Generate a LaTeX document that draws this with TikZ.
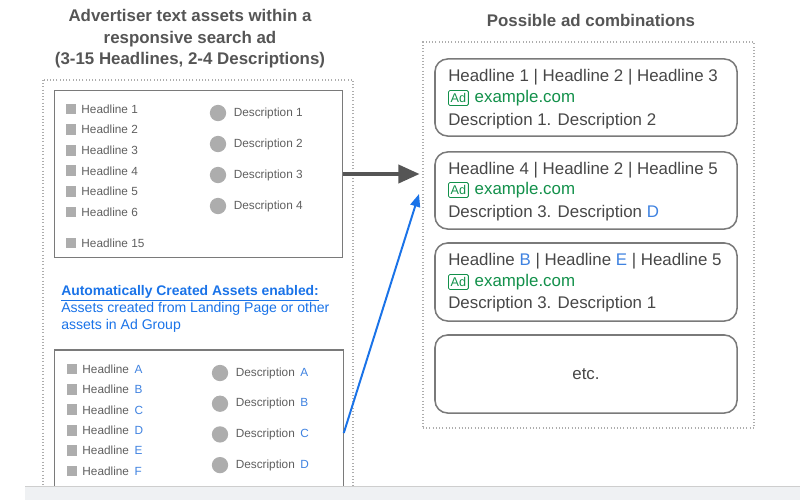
\documentclass[tikz,border=0pt]{standalone}
\usepackage{fontspec}
\setmainfont{Liberation Sans}
\usetikzlibrary{arrows.meta,positioning}
\definecolor{titlegray}{HTML}{555555}
\definecolor{itemgray}{HTML}{5F5F5F}
\definecolor{markgray}{HTML}{ADADAD}
\definecolor{boxgray}{HTML}{7A7A7A}
\definecolor{adtext}{HTML}{474747}
\definecolor{adgreen}{HTML}{12904A}
\definecolor{gblue}{HTML}{1A73E8}
\definecolor{lblue}{HTML}{3F82E0}
\definecolor{bargray}{HTML}{EFF1F3}
\tikzset{
    title/.style={font=\bfseries\fontsize{12}{15.3}\selectfont, text=titlegray, align=center, inner sep=0pt},
    dotbox/.style={draw=markgray, line width=0.9pt, dash pattern=on 0.7pt off 1.6pt, inner sep=0pt},
    listbox/.style={draw=boxgray, line width=0.9pt, inner sep=0pt},
    hsq/.style={fill=markgray, minimum size=7.6pt, inner sep=0pt},
    dsq/.style={circle, fill=markgray, minimum size=11.6pt, inner sep=0pt},
    item/.style={anchor=west, inner sep=0pt, text=itemgray, font=\fontsize{8.4}{10}\selectfont},
    adbox/.style={draw=boxgray, line width=1.1pt, rounded corners=9pt, inner sep=0pt},
    adline/.style={anchor=west, inner sep=0pt, text=adtext, font=\fontsize{12}{14}\selectfont},
    adtag/.style={draw=adgreen, text=adgreen, line width=0.6pt, rounded corners=1pt, inner xsep=1.6pt, inner ysep=2pt, font=\fontsize{9}{10}\selectfont},
}
\begin{document}
\begin{tikzpicture}[x=0.025cm, y=-0.025cm]
\useasboundingbox (0,0) rectangle (800,500);

% left side: given assets
\node[title] (lefttitle) at (190,39) {Advertiser text assets within a\\responsive search ad\\(3-15 Headlines, 2-4 Descriptions)};
\draw[dotbox] (43,80) rectangle (353,492);
\node[listbox, minimum width=205pt, minimum height=119pt] (given) at (198.5,174) {};
\foreach \i in {1,...,6}{
    \node[hsq] (hs\i) at (71,{109+(\i-1)*20.6}) {};
    \node[item, right=3.2pt of hs\i] (h\i) {Headline \i};
}
\node[hsq] (hs15) at (71,243) {};
\node[item, right=3.2pt of hs15] (h15) {Headline 15};
\foreach \i in {1,...,4}{
    \node[dsq] (ds\i) at (218,{113+(\i-1)*31}) {};
    \node[item, right=5pt of ds\i] (d\i) {Description \i};
}

\node[anchor=west, inner sep=0pt, text=gblue, font=\bfseries\fontsize{9.9}{11}\selectfont] (autohead) at (61,293) {\underline{Automatically Created Assets enabled:}};
\node[anchor=north west, inner sep=0pt, text=gblue, align=left, font=\fontsize{10}{12}\selectfont] (autonote) at (61,302) {Assets created from Landing Page or other\\assets in Ad Group};

\node[listbox, minimum width=205pt, minimum height=103pt] (auto) at (199,422.5) {};
\foreach \l [count=\i] in {A,B,C,D,E,F}{
    \node[hsq] (as\i) at (72,{369+(\i-1)*20.4}) {};
    \node[item, right=3.2pt of as\i] (a\i) {Headline\hspace{4pt}\textcolor{lblue}{\l}};
}
\foreach \l [count=\i] in {A,B,C,D}{
    \node[dsq] (bs\i) at (220,{373+(\i-1)*30.7}) {};
    \node[item, right=5pt of bs\i] (b\i) {Description\hspace{4pt}\textcolor{lblue}{\l}};
}

% right side: combinations
\node[title] (righttitle) at (591,20) {Possible ad combinations};
\node[dotbox, minimum width=235.5pt, minimum height=274.5pt] (combos) at (588.5,235) {};

\node[adbox, minimum width=214.8pt, minimum height=54.8pt] (ad1) at (586,97.5) {};
\node[adbox, minimum width=214.8pt, minimum height=54.8pt] (ad2) at (586,190.5) {};
\node[adbox, minimum width=214.8pt, minimum height=55.5pt] (ad3) at (586,282) {};
\node[adbox, minimum width=214.8pt, minimum height=55.5pt] (ad4) at (586,374) {};

\node[adline] (ad1a) at (448,77) {Headline 1 | Headline 2 | Headline 3};
\node[adtag, anchor=west] (ad1t) at (448,98) {Ad};
\node[adline, text=adgreen, right=4pt of ad1t] (ad1u) {example.com};
\node[adline] (ad1b) at (448,121) {Description 1. Description 2};

\node[adline] (ad2a) at (448,170) {Headline 4 | Headline 2 | Headline 5};
\node[adtag, anchor=west] (ad2t) at (448,190) {Ad};
\node[adline, text=adgreen, right=4pt of ad2t] (ad2u) {example.com};
\node[adline] (ad2b) at (448,213) {Description 3. Description \textcolor{lblue}{D}};

\node[adline] (ad3a) at (448,261) {Headline \textcolor{lblue}{B} | Headline \textcolor{lblue}{E} | Headline 5};
\node[adtag, anchor=west] (ad3t) at (448,282) {Ad};
\node[adline, text=adgreen, right=4pt of ad3t] (ad3u) {example.com};
\node[adline] (ad3b) at (448,304) {Description 3. Description 1};

\node[adline, anchor=center] (etc) at (ad4) {etc.};

% arrows
\draw[line width=2.2pt, titlegray, -{Triangle[length=15pt, width=13pt]}] (given.east) -- ([xshift=-2pt]combos.west |- given.east);
\coordinate (autoout) at (auto.east |- 0,433);
\coordinate (bluetip) at (419,194);
\draw[line width=1.4pt, gblue, -{Triangle[length=9pt, width=7pt]}] (autoout) -- (bluetip);

% bottom bar
\fill[bargray] (25,486) rectangle (800,500);
\draw[draw=markgray!60, line width=0.6pt] (25,486) -- (800,486);
\end{tikzpicture}
\end{document}
